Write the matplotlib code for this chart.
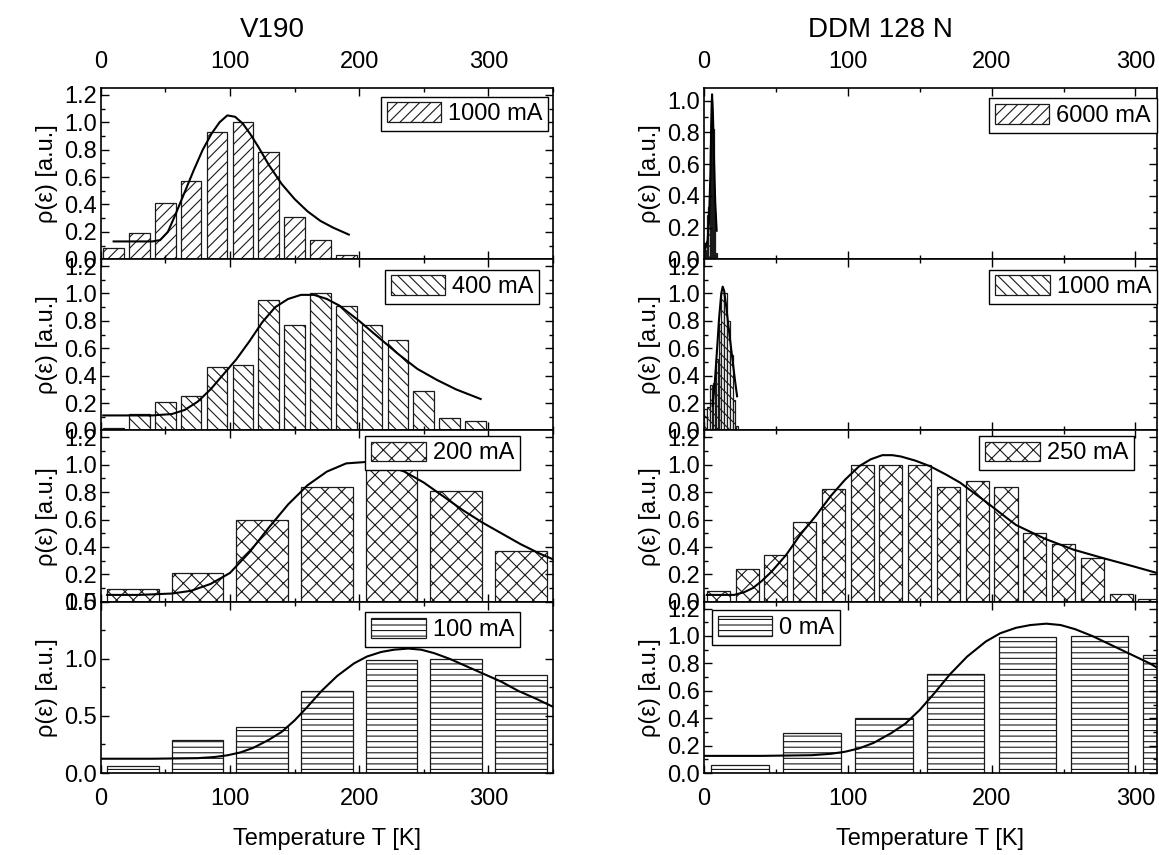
import numpy as np
import matplotlib
matplotlib.use("Agg")
from matplotlib import pyplot as plt
from matplotlib.ticker import MultipleLocator

plt.rcParams['font.family'] = ['Liberation Sans', 'DejaVu Sans']
plt.rcParams['hatch.linewidth'] = 0.8

# ---- V190 (left column) ----
v1000_t = [10, 30, 50, 70, 90, 110, 130, 150, 170, 190]
v1000_rho = [0.08, 0.19, 0.41, 0.57, 0.93, 1.00, 0.78, 0.31, 0.14, 0.03]
v1000_fit_t = [10, 25, 40, 46, 52, 58, 65, 72, 79, 86, 92, 98, 104, 110, 116,
               122, 130, 140, 150, 160, 170, 180, 192]
v1000_fit_rho = [0.13, 0.13, 0.13, 0.14, 0.20, 0.33, 0.49, 0.65, 0.80, 0.92,
                 1.00, 1.05, 1.04, 0.99, 0.91, 0.82, 0.69, 0.55, 0.44, 0.35,
                 0.28, 0.23, 0.18]

v400_t = [10, 30, 50, 70, 90, 110, 130, 150, 170, 190, 210, 230, 250, 270, 290]
v400_rho = [0.015, 0.12, 0.21, 0.25, 0.46, 0.48, 0.95, 0.77, 1.00, 0.91, 0.77,
            0.66, 0.29, 0.09, 0.07]
v400_fit_t = [2, 20, 40, 55, 65, 75, 85, 95, 105, 115, 125, 135, 145, 155, 165,
              175, 185, 200, 215, 230, 245, 260, 275, 294]
v400_fit_rho = [0.11, 0.11, 0.11, 0.12, 0.15, 0.21, 0.30, 0.41, 0.52, 0.65,
                0.79, 0.90, 0.96, 0.99, 0.99, 0.96, 0.91, 0.80, 0.68, 0.56,
                0.45, 0.37, 0.30, 0.23]

v200_t = [25, 75, 125, 175, 225, 275, 325]
v200_rho = [0.09, 0.21, 0.60, 0.84, 1.00, 0.81, 0.37]
v200_fit_t = [5, 30, 55, 70, 85, 100, 115, 130, 145, 160, 175, 190, 205, 220,
              235, 250, 265, 280, 295, 310, 325, 340, 350]
v200_fit_rho = [0.05, 0.05, 0.06, 0.08, 0.13, 0.21, 0.36, 0.54, 0.71, 0.85,
                0.95, 1.01, 1.02, 1.00, 0.95, 0.87, 0.77, 0.67, 0.58, 0.50,
                0.42, 0.35, 0.31]

v100_t = [25, 75, 125, 175, 225, 275, 325]
v100_rho = [0.06, 0.29, 0.40, 0.72, 0.99, 1.00, 0.86]
v100_fit_t = [0, 40, 75, 88, 98, 108, 118, 130, 140, 150, 160, 171, 183, 196,
              206, 217, 227, 238, 248, 258, 270, 282, 296, 310, 323, 337, 350]
v100_fit_rho = [0.125, 0.125, 0.13, 0.14, 0.155, 0.18, 0.22, 0.29, 0.36, 0.46,
                0.58, 0.72, 0.85, 0.96, 1.02, 1.06, 1.08, 1.09, 1.08, 1.05,
                1.00, 0.94, 0.87, 0.80, 0.72, 0.65, 0.58]

# ---- DDM 128 N (right column) ----
d6000_t = [0.5, 1.5, 2.5, 3.5, 4.5, 5.5, 6.5, 7.5, 8.5]
d6000_rho = [0.10, 0.06, 0.28, 0.33, 0.72, 1.00, 0.82, 0.30, 0.04]
d6000_fit_t = [0.5, 1.5, 2.5, 3.5, 4.5, 5.0, 5.6, 6.2, 7.0, 7.8, 8.8]
d6000_fit_rho = [0.06, 0.08, 0.12, 0.25, 0.55, 0.85, 1.04, 0.92, 0.62, 0.36, 0.18]

d1000_t = [1, 3, 5, 7, 9, 11, 13, 15, 17, 19, 21, 23]
d1000_rho = [0.16, 0.17, 0.33, 0.35, 0.52, 0.78, 1.00, 1.00, 0.80, 0.55, 0.22, 0.03]
d1000_fit_t = [6.0, 7.5, 9.0, 10.5, 12.0, 13.0, 14.0, 15.5, 17.0, 18.5, 20.0,
               21.5, 23.0]
d1000_fit_rho = [0.18, 0.35, 0.58, 0.82, 1.00, 1.05, 1.02, 0.90, 0.76, 0.63,
                 0.50, 0.37, 0.25]

d250_t = [10, 30, 50, 70, 90, 110, 130, 150, 170, 190, 210, 230, 250, 270, 290, 310]
d250_rho = [0.08, 0.24, 0.34, 0.58, 0.82, 1.00, 1.00, 1.00, 0.84, 0.88, 0.84,
            0.50, 0.42, 0.32, 0.06, 0.02]
d250_fit_t = [2, 21, 28, 34, 40, 47, 57, 67, 78, 88, 98, 108, 116, 124, 131,
              137, 147, 157, 168, 178, 187, 196, 207, 217, 227, 237, 257, 277,
              298, 315]
d250_fit_rho = [0.05, 0.05, 0.07, 0.10, 0.15, 0.22, 0.34, 0.49, 0.63, 0.77,
                0.89, 0.99, 1.04, 1.07, 1.07, 1.06, 1.03, 0.99, 0.93, 0.87,
                0.80, 0.73, 0.64, 0.56, 0.51, 0.46, 0.38, 0.32, 0.26, 0.21]

d0_t = v100_t
d0_rho = v100_rho
d0_fit_t = v100_fit_t
d0_fit_rho = v100_fit_rho

fig = plt.figure(figsize=(11.59, 8.55), dpi=100)

W, H = 1159.0, 855.0
col_left = [100.7 / W, 704 / W]
col_width = [452.3 / W, 453 / W]
col_xmax = [350, 315]
top_px, bot_px = 88, 773
ph = (bot_px - top_px) / 4.0

# (t, rho, fit_t, fit_rho, width, hatch, label, ymax, ymajor, legend anchor, loc)
panels = [
    [(v1000_t, v1000_rho, v1000_fit_t, v1000_fit_rho, 16, '///', '1000 mA', 1.25, 0.2, (0.99, 0.95), 'upper right'),
     (v400_t, v400_rho, v400_fit_t, v400_fit_rho, 16, '\\\\\\', '400 mA', 1.25, 0.2, (0.97, 0.94), 'upper right'),
     (v200_t, v200_rho, v200_fit_t, v200_fit_rho, 40, 'xx', '200 mA', 1.25, 0.2, (0.927, 0.97), 'upper right'),
     (v100_t, v100_rho, v100_fit_t, v100_fit_rho, 40, '---', '100 mA', 1.5, 0.5, (0.927, 0.94), 'upper right')],
    [(d6000_t, d6000_rho, d6000_fit_t, d6000_fit_rho, 0.8, '///', '6000 mA', 1.08, 0.2, (1.0, 0.94), 'upper right'),
     (d1000_t, d1000_rho, d1000_fit_t, d1000_fit_rho, 1.7, '\\\\\\', '1000 mA', 1.25, 0.2, (1.0, 0.94), 'upper right'),
     (d250_t, d250_rho, d250_fit_t, d250_fit_rho, 16, 'xx', '250 mA', 1.25, 0.2, (0.949, 0.97), 'upper right'),
     (d0_t, d0_rho, d0_fit_t, d0_fit_rho, 40, '---', '0 mA', 1.25, 0.2, (0.018, 0.95), 'upper left')],
]

for c in range(2):
    for r in range(4):
        t, rho, ft, frho, w, hatch, lab, ymax, ymaj, anchor, loc = panels[c][r]
        y0 = 1 - (top_px + (r + 1) * ph) / H
        ax = fig.add_axes([col_left[c], y0, col_width[c], ph / H])
        bars = ax.bar(t, rho, width=w, color='white', edgecolor='0.1',
                      hatch=hatch, linewidth=0.9, label=lab)
        ax.plot(ft, frho, color='k', lw=1.5)
        ax.set_xlim(0, col_xmax[c])
        ax.set_ylim(0, ymax)
        ax.xaxis.set_major_locator(MultipleLocator(100))
        ax.xaxis.set_minor_locator(MultipleLocator(50))
        ax.yaxis.set_major_locator(MultipleLocator(ymaj))
        ax.yaxis.set_minor_locator(MultipleLocator(ymaj / 2))
        ax.tick_params(which='both', direction='in', top=True, right=True,
                       labelsize=17, width=1.0)
        ax.tick_params(which='major', length=6)
        ax.tick_params(which='minor', length=3)
        ax.tick_params(axis='x', labeltop=(r == 0), labelbottom=(r == 3), pad=11)
        ax.tick_params(axis='y', pad=3)
        for s in ax.spines.values():
            s.set_linewidth(1.2)
        ax.set_ylabel('ρ(ε) [a.u.]', fontsize=17, labelpad=4)
        if r == 3:
            ax.set_xlabel('Temperature T [K]', fontsize=17, labelpad=13)
        leg = ax.legend(loc=loc, bbox_to_anchor=anchor, fontsize=17,
                        fancybox=False, edgecolor='k', framealpha=1,
                        handlelength=2.3, handleheight=0.9, borderpad=0.25,
                        handletextpad=0.3, borderaxespad=0)
        leg.get_frame().set_linewidth(1.0)

fig.text(272 / W, 1 - 30 / H, 'V190', fontsize=20, ha='center', va='center')
fig.text(880 / W, 1 - 30 / H, 'DDM 128 N', fontsize=20, ha='center', va='center')

fig.savefig('out.png', dpi=100)
